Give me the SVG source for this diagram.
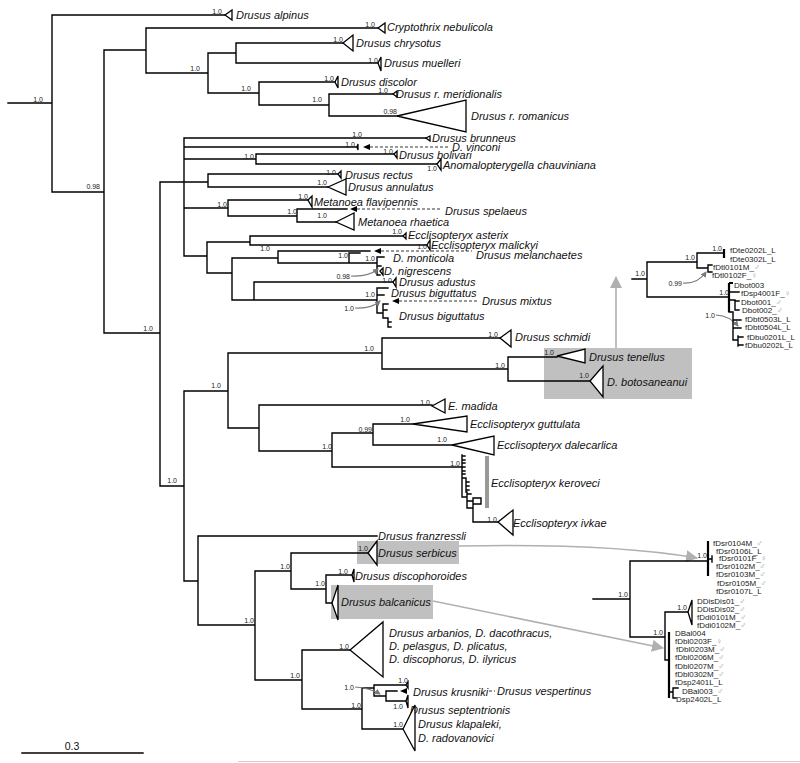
<svg xmlns="http://www.w3.org/2000/svg" width="800" height="763" viewBox="0 0 800 763">
<style>
.b{fill:none;stroke:#000;stroke-width:1.4;stroke-linecap:square}
.bb{fill:none;stroke:#000;stroke-width:2.2}
.t{fill:#fff;stroke:#000;stroke-width:1.3;stroke-linejoin:miter}
.n{font-family:"Liberation Sans",Arial,sans-serif;font-style:italic;font-size:11px;fill:#111}
.s{font-family:"Liberation Sans",Arial,sans-serif;font-size:7px;fill:#222;text-anchor:end}
.i{font-family:"Liberation Sans",Arial,sans-serif;font-size:8px;fill:#222}
.sx{fill:#999}
.d{fill:none;stroke:#000;stroke-width:0.8;stroke-dasharray:3 2}
.ah{fill:#000}
.ga{fill:none;stroke:#b0b0b0;stroke-width:1.6;marker-end:url(#gm)}
.sa{fill:none;stroke:#7a7a7a;stroke-width:1.1;marker-end:url(#sm)}
.box{fill:#c0c0c0}
</style>
<defs>
<marker id="gm" viewBox="0 0 12 12" refX="11" refY="6" markerWidth="12" markerHeight="12" markerUnits="userSpaceOnUse" orient="auto"><path d="M0,0L12,6L0,12z" fill="#b0b0b0"/></marker>
<marker id="sm" viewBox="0 0 6 6" refX="5" refY="3" markerWidth="6" markerHeight="6" markerUnits="userSpaceOnUse" orient="auto"><path d="M0,0L6,3L0,6z" fill="#7a7a7a"/></marker>
</defs>
<rect width="800" height="763" fill="#fff"/>
<g id="highlights">
<rect class="box" x="544" y="348" width="148" height="51"/>
<rect class="box" x="357" y="541" width="102" height="23"/>
<rect class="box" x="331" y="585" width="102" height="34"/>
<rect x="485" y="456" width="4" height="52" fill="#999"/>
</g>
<g id="connectors">
<path class="b" d="M8,103H52M52,15V192M52,15H225M52,192H104M104,50V333M104,50H146M146,28V73M146,28H378M146,73H208M208,53V93M208,53H236M236,43V63M236,43H343M236,63H378M208,93H259M259,82V105M259,82H335M259,105H329M329,94V116M329,94H393M329,116H397M104,333H160M160,182V486
M184,138V256M184,138H426M184,147H357M184,159H256M256,154V164M256,154H394M256,164H437M160,182H208M208,174V187M208,174H338M208,187H328M184,208H228M228,200V216M228,200H308M228,216H297M297,209V222M297,209H347M297,222H336
M184,256H207M207,242V273M207,242H250M250,236V245M250,236H403M250,245H427M207,273H232M232,258V300M232,258H278M278,251V263M278,251H370M278,263H349M349,253V263M349,253H360M349,263H377M377,257V275M377,257H384M377,266H381M377,275H380
M232,300H254M254,282V300M254,282H393M254,300H377M377,288V313M377,288H388M377,295H384M377,313H383M383,304V318M383,304H388M383,310H387M383,318H388M388,318V327M388,322H391M388,327H391
M160,486H184M184,391V581M184,391H228M228,353V428M228,353H382M382,338V369M382,338H500M382,369H508M508,357V381M508,357H557M508,381H590M228,428H259M259,405V451M259,405H432M259,451H332M332,433V467M332,433H373M373,424V445M373,424H413M373,445H452M332,467H462
M462,455V497M462,456H465M462,460H465M462,463H465M462,467H465M462,471H465M462,474H465M462,478H466M466,478V492M466,482H469M466,486H469M466,490H469M462,497H467M467,492V508M467,494H471M467,501H473M473,498V504M473,498H481M473,504H481M481,498V504M467,508H473M473,504V522M473,522H498
M184,581H198M198,536V625M198,536H377M198,625H255M255,571V680M255,571H291M291,553V589M291,553H368M291,589H326M326,575V603M326,575H352M326,603H332M255,680H302M302,650V709M302,650H350M302,709H362M362,688V729M362,688H374M374,685V696M374,685H406M374,696H386M386,691V701M386,691H397M386,701H406M362,729H403"/>
<path class="d" d="M370,147H450M357,209H442M381,251H472M399,301H479M489,691H495"/>
<polygon class="ah" points="363,147 370,144 370,150"/>
<polygon class="ah" points="350,209 357,206 357,212"/>
<polygon class="ah" points="374,251 381,248 381,254"/>
<polygon class="ah" points="392,301 399,298 399,304"/>
<polygon class="ah" points="400,691 407,688 407,694"/>
<path class="sa" d="M351,276Q368,277 378,269"/>
<path class="sa" d="M355,308Q371,309 380,301"/>
<path class="sa" d="M355,687Q370,688 380,694"/>
<path class="sa" d="M683,283Q698,284 706,272"/>
<path class="sa" d="M716,315Q730,316 738,326"/>
<path class="ga" d="M616,348V277"/>
<path class="ga" d="M459,546C560,544 640,548 697,558"/>
<path class="ga" d="M433,601L663,648"/>
</g>
<g id="support">
<text class="s" x="43" y="101.5">1.0</text>
<text class="s" x="222" y="13.5">1.0</text>
<text class="s" x="375" y="26.5">1.0</text>
<text class="s" x="343" y="41.5">1.0</text>
<text class="s" x="378" y="62.5">1.0</text>
<text class="s" x="334" y="80.5">1.0</text>
<text class="s" x="388" y="92.5">1.0</text>
<text class="s" x="397" y="113.5">0.98</text>
<text class="s" x="322" y="101.5">1.0</text>
<text class="s" x="251" y="90.5">1.0</text>
<text class="s" x="200" y="70.5">1.0</text>
<text class="s" x="100" y="188.5">0.98</text>
<text class="s" x="153" y="330.5">1.0</text>
<text class="s" x="177" y="482.5">1.0</text>
<text class="s" x="362" y="136.5">1.0</text>
<text class="s" x="355" y="146.5">1.0</text>
<text class="s" x="393" y="153.5">1.0</text>
<text class="s" x="254" y="158.5">1.0</text>
<text class="s" x="437" y="170.5">1.0</text>
<text class="s" x="336" y="174.5">1.0</text>
<text class="s" x="327" y="184.5">1.0</text>
<text class="s" x="308" y="198.5">1.0</text>
<text class="s" x="227" y="206.5">1.0</text>
<text class="s" x="297" y="213.5">1.0</text>
<text class="s" x="327" y="217.5">1.0</text>
<text class="s" x="402" y="233.5">1.0</text>
<text class="s" x="427" y="248.5">1.0</text>
<text class="s" x="270" y="250.5">1.0</text>
<text class="s" x="348" y="257.5">1.0</text>
<text class="s" x="375" y="260.5">1.0</text>
<text class="s" x="350" y="278.5">0.98</text>
<text class="s" x="392" y="282.5">1.0</text>
<text class="s" x="375" y="296.5">1.0</text>
<text class="s" x="354" y="310.5">1.0</text>
<text class="s" x="374" y="350.5">1.0</text>
<text class="s" x="498" y="336.5">1.0</text>
<text class="s" x="505" y="367.5">1.0</text>
<text class="s" x="221" y="387.5">1.0</text>
<text class="s" x="554" y="354.5">1.0</text>
<text class="s" x="589" y="377.5">1.0</text>
<text class="s" x="430" y="404.5">1.0</text>
<text class="s" x="332" y="448.5">1.0</text>
<text class="s" x="372" y="431.5">0.99</text>
<text class="s" x="410" y="421.5">1.0</text>
<text class="s" x="447" y="441.5">1.0</text>
<text class="s" x="460" y="465.5">1.0</text>
<text class="s" x="497" y="521.5">1.0</text>
<text class="s" x="254" y="622.5">1.0</text>
<text class="s" x="290" y="568.5">1.0</text>
<text class="s" x="368" y="550.5">1.0</text>
<text class="s" x="325" y="585.5">1.0</text>
<text class="s" x="348" y="573.5">1.0</text>
<text class="s" x="300" y="677.5">1.0</text>
<text class="s" x="349" y="648.5">1.0</text>
<text class="s" x="354" y="689.5">1.0</text>
<text class="s" x="408" y="682.5">1.0</text>
<text class="s" x="403" y="708.5">1.0</text>
<text class="s" x="361" y="707.5">1.0</text>
<text class="s" x="403" y="726.5">1.0</text>
</g>
<g id="alpinus"><polygon class="t" points="225,15 232,10 232,20"/><text class="n" x="236" y="19">Drusus alpinus</text></g>
<g id="cryptothrix"><polygon class="t" points="378,28 385,23 385,33"/><text class="n" x="387" y="31">Cryptothrix nebulicola</text></g>
<g id="chrysotus"><polygon class="t" points="343,43 353,35 353,51"/><text class="n" x="356" y="47">Drusus chrysotus</text></g>
<g id="muelleri"><polygon class="t" points="378,63 381,57 381,71"/><text class="n" x="384" y="67">Drusus muelleri</text></g>
<g id="discolor"><polygon class="t" points="335,82 338,76 338,88"/><text class="n" x="341" y="86">Drusus discolor</text></g>
<g id="meridionalis"><polygon class="t" points="393,94 397,91 397,97"/><text class="n" x="396" y="98">Drusus r. meridionalis</text></g>
<g id="romanicus"><polygon class="t" points="397,116 466,100 466,132"/><text class="n" x="471" y="120">Drusus r. romanicus</text></g>
<g id="brunneus"><polygon class="t" points="426,138 430,136 430,141"/><text class="n" x="432" y="142">Drusus brunneus</text></g>
<g id="vinconi"><polygon class="t" points="357,147 358,144 358,150"/><text class="n" x="452" y="151">D. vinconi</text></g>
<g id="bolivari"><polygon class="t" points="394,154 397,151 397,158"/><text class="n" x="399" y="159">Drusus bolivari</text></g>
<g id="anomalopterygella"><polygon class="t" points="437,164 441,159 441,170"/><text class="n" x="443" y="169">Anomalopterygella chauviniana</text></g>
<g id="rectus"><polygon class="t" points="338,174 341,171 341,178"/><text class="n" x="345" y="179">Drusus rectus</text></g>
<g id="annulatus"><polygon class="t" points="328,187 346,179 346,195"/><text class="n" x="348" y="191">Drusus annulatus</text></g>
<g id="flavipennis"><polygon class="t" points="308,200 312,196 312,207"/><text class="n" x="314" y="206">Metanoea flavipennis</text></g>
<g id="spelaeus"><text class="n" x="445" y="215">Drusus spelaeus</text></g>
<g id="rhaetica"><polygon class="t" points="336,222 354,213 354,230"/><text class="n" x="358" y="226">Metanoea rhaetica</text></g>
<g id="asterix"><polygon class="t" points="403,236 406,233 406,239"/><text class="n" x="408" y="239">Ecclisopteryx asterix</text></g>
<g id="malickyi"><polygon class="t" points="427,245 430,240 430,250"/><text class="n" x="431" y="249">Ecclisopteryx malickyi</text></g>
<g id="melanchaetes"><text class="n" x="476" y="259">Drusus melanchaetes</text></g>
<g id="monticola"><text class="n" x="393" y="262">D. monticola</text></g>
<g id="nigrescens"><polygon class="t" points="380,271 383,268 383,275"/><text class="n" x="384" y="275">D. nigrescens</text></g>
<g id="adustus"><polygon class="t" points="393,282 396,278 396,287"/><text class="n" x="399" y="286">Drusus adustus</text></g>
<g id="biguttatus1"><text class="n" x="391" y="297">Drusus biguttatus</text></g>
<g id="mixtus"><text class="n" x="482" y="305">Drusus mixtus</text></g>
<g id="biguttatus2"><text class="n" x="399" y="320">Drusus biguttatus</text></g>
<g id="schmidi"><polygon class="t" points="500,338 511,330 511,347"/><text class="n" x="515" y="341">Drusus schmidi</text></g>
<g id="tenellus"><polygon class="t" points="557,356 585,349 585,363"/><text class="n" x="589" y="361">Drusus tenellus</text></g>
<g id="botosaneanui"><polygon class="t" points="590,381 603,366 603,397"/><text class="n" x="607" y="386">D. botosaneanui</text></g>
<g id="madida"><polygon class="t" points="432,406 445,399 445,413"/><text class="n" x="448" y="410">E. madida</text></g>
<g id="guttulata"><polygon class="t" points="413,424 467,416 467,432"/><text class="n" x="470" y="428">Ecclisopteryx guttulata</text></g>
<g id="dalecarlica"><polygon class="t" points="452,445 494,436 494,455"/><text class="n" x="497" y="449">Ecclisopteryx dalecarlica</text></g>
<g id="keroveci"><text class="n" x="491" y="487">Ecclisopteryx keroveci</text></g>
<g id="ivkae"><polygon class="t" points="498,522 513,510 513,535"/><text class="n" x="513" y="527">Ecclisopteryx ivkae</text></g>
<g id="franzressli"><text class="n" x="378" y="540">Drusus franzressli</text></g>
<g id="serbicus"><polygon class="t" points="368,553 377,541 377,565"/><text class="n" x="378" y="557">Drusus serbicus</text></g>
<g id="discophoroides"><polygon class="t" points="352,575 354,569 354,582"/><text class="n" x="355" y="580">Drusus discophoroides</text></g>
<g id="balcanicus"><polygon class="t" points="332,603 338,585 338,620"/><text class="n" x="341" y="606">Drusus balcanicus</text></g>
<g id="arbanios"><polygon class="t" points="350,650 383,622 383,677"/><text class="n" x="389" y="637">Drusus arbanios, D. dacothracus,</text><text class="n" x="389" y="650">D. pelasgus, D. plicatus,</text><text class="n" x="389" y="663">D. discophorus, D. ilyricus</text></g>
<g id="krusniki"><polygon class="t" points="406,685 408,682 408,688"/><text class="n" x="413" y="696">Drusus krusniki</text></g>
<g id="vespertinus"><text class="n" x="497" y="695">Drusus vespertinus</text></g>
<g id="septentrionis"><polygon class="t" points="406,701 408,695 408,708"/><text class="n" x="410" y="714">Drusus septentrionis</text></g>
<g id="klapaleki"><polygon class="t" points="403,729 415,705 415,751"/><text class="n" x="418" y="728">Drusus klapaleki,</text><text class="n" x="418" y="742">D. radovanovici</text></g>
<g id="inset-tenellus">
<path class="b" d="M632,279H647M647,262V297M647,262H697M697,253V268M697,253H724M697,268H708M708,265V272M708,265H712M708,272H712M647,297H729M729,292H739M729,300H735M735,300V310M735,301H739M735,310H739M729,312H733M733,312V340M733,320H741M733,328H741M733,340H738M738,336V346M738,337H743M738,345H743"/>
<path class="bb" d="M724,249V258M729,283V312M729,283H733"/>
<text class="s" x="645" y="275.5">1.0</text>
<text class="s" x="695" y="259.5">1.0</text>
<text class="s" x="722" y="250.5">1.0</text>
<text class="s" x="682" y="285.5">0.99</text>
<text class="s" x="729" y="294.5">1.0</text>
<text class="s" x="715" y="317.5">1.0</text>
<text class="i" x="730" y="253">fDte0202L_L</text>
<text class="i" x="730" y="262">fDte0302L_L</text>
<text class="i" x="713" y="270">fDtl0101M_<tspan class="sx">♂</tspan></text>
<text class="i" x="712" y="278">fDtl0102F_<tspan class="sx">♀</tspan></text>
<text class="i" x="734" y="288">Dbot003</text>
<text class="i" x="741" y="296">fDsp4001F_<tspan class="sx">♀</tspan></text>
<text class="i" x="741" y="305">Dbot001_<tspan class="sx">♂</tspan></text>
<text class="i" x="742" y="313">Dbot002_<tspan class="sx">♂</tspan></text>
<text class="i" x="745" y="322">fDbt0503L_L</text>
<text class="i" x="745" y="330">fDbt0504L_L</text>
<text class="i" x="747" y="340">fDbu0201L_L</text>
<text class="i" x="745" y="348">fDbu0202L_L</text>
</g>
<g id="inset-serbicus-balcanicus">
<path class="b" d="M593,599H630M630,561V637M630,561H708M630,637H665M665,612V660M665,612H688M665,660H669M708,559H712M712,556V562M669,692H673M673,688V698M673,688H678M673,698H676"/>
<path class="bb" d="M708,541V576M669,632V698"/>
<polygon class="t" points="688,612 692,600 692,625"/>
<text class="s" x="628" y="596.5">1.0</text>
<text class="s" x="707" y="557.5">1.0</text>
<text class="s" x="663" y="634.5">1.0</text>
<text class="s" x="687" y="609.5">1.0</text>
<text class="i" x="713" y="546">fDsr0104M_<tspan class="sx">♂</tspan></text>
<text class="i" x="716" y="554">fDsr0106L_L</text>
<text class="i" x="719" y="561">fDsr0101F_<tspan class="sx">♀</tspan></text>
<text class="i" x="716" y="569">fDsr0102M_<tspan class="sx">♂</tspan></text>
<text class="i" x="716" y="577">fDsr0103M_<tspan class="sx">♂</tspan></text>
<text class="i" x="717" y="586">fDsr0105M_<tspan class="sx">♂</tspan></text>
<text class="i" x="716" y="594">fDsr0107L_L</text>
<text class="i" x="697" y="604">DDisDis01_<tspan class="sx">♂</tspan></text>
<text class="i" x="697" y="612">DDisDis02_<tspan class="sx">♂</tspan></text>
<text class="i" x="697" y="620">fDdi0101M_<tspan class="sx">♂</tspan></text>
<text class="i" x="697" y="628">fDdi0102M_<tspan class="sx">♂</tspan></text>
<text class="i" x="675" y="636">DBal004</text>
<text class="i" x="675" y="644">fDbl0203F_<tspan class="sx">♀</tspan></text>
<text class="i" x="676" y="652">fDbl0203M_<tspan class="sx">♂</tspan></text>
<text class="i" x="675" y="660">fDbl0206M_<tspan class="sx">♂</tspan></text>
<text class="i" x="675" y="669">fDbl0207M_<tspan class="sx">♂</tspan></text>
<text class="i" x="675" y="677">fDbl0302M_<tspan class="sx">♂</tspan></text>
<text class="i" x="675" y="685">fDsp2401L_L</text>
<text class="i" x="682" y="694">DBal003_<tspan class="sx">♂</tspan></text>
<text class="i" x="676" y="702">Dsp2402L_L</text>
</g>
<g id="scale">
<path class="b" d="M22,753H143"/>
<text x="72" y="750" font-family="Liberation Sans, Arial, sans-serif" font-size="10.5" text-anchor="middle" fill="#111">0.3</text>
</g>
<path d="M238,761.5H800" stroke="#d0d0d0" stroke-width="1"/>
</svg>
